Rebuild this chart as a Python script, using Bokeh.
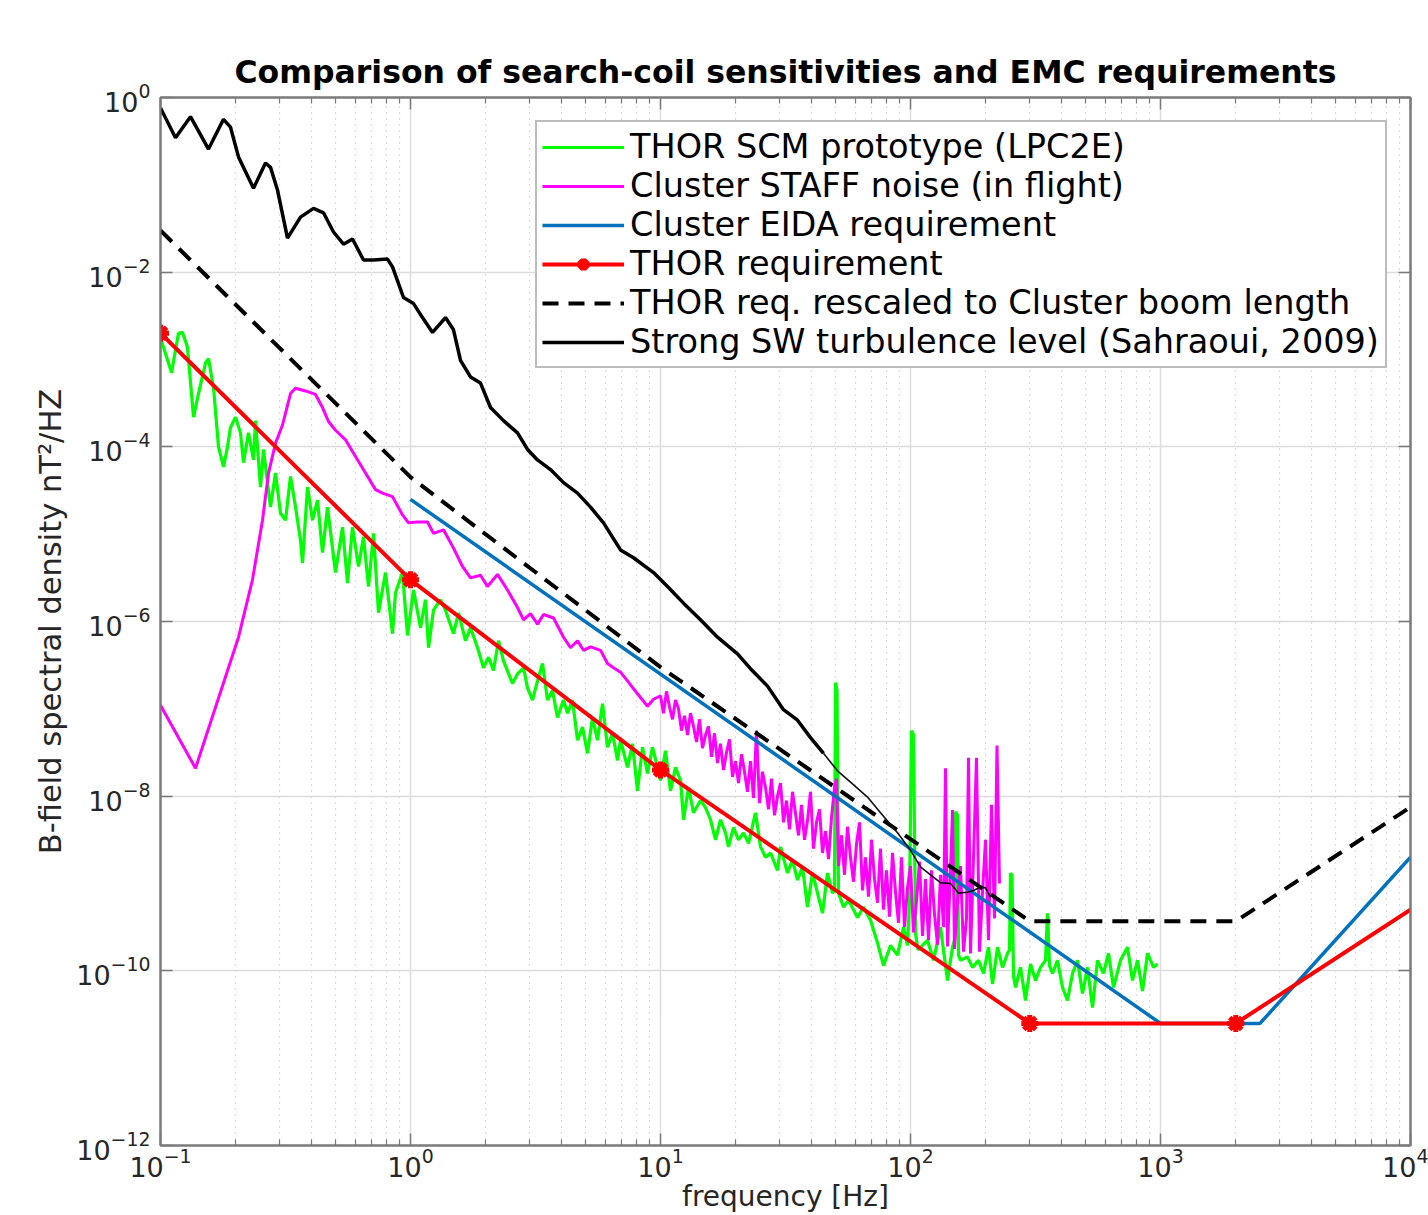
import numpy as np
from bokeh.plotting import figure
from bokeh.models import FixedTicker, LogAxis
from bokeh.embed import file_html
from bokeh.resources import INLINE

# ---------------- data ----------------
# THOR SCM prototype (LPC2E): log10(frequency [Hz]) and log10(PSD [nT^2/Hz])
scm_log_f = [
    -1.0, -0.988, -0.956, -0.928, -0.912, -0.892, -0.868, -0.848, -0.82, -0.808,
    -0.788, -0.768, -0.748, -0.732, -0.72, -0.70, -0.68, -0.668, -0.648, -0.628,
    -0.62, -0.60, -0.588, -0.56, -0.54, -0.52, -0.50, -0.48, -0.46, -0.44,
    -0.432, -0.412, -0.392, -0.372, -0.352, -0.332, -0.30, -0.272, -0.252, -0.232,
    -0.208, -0.188, -0.168, -0.148, -0.128, -0.10, -0.072, -0.06, -0.032, -0.012,
    0.012, 0.04, 0.06, 0.072, 0.092, 0.12, 0.14, 0.172, 0.192, 0.22,
    0.24, 0.268, 0.292, 0.312, 0.332, 0.352, 0.372, 0.408, 0.428, 0.452,
    0.468, 0.488, 0.508, 0.528, 0.548, 0.568, 0.588, 0.612, 0.628, 0.648,
    0.668, 0.688, 0.708, 0.728, 0.748, 0.768, 0.788, 0.808, 0.828, 0.84,
    0.868, 0.888, 0.908, 0.928, 0.948, 0.968, 0.988, 1.0, 1.02, 1.04,
    1.06, 1.08, 1.092, 1.112, 1.132, 1.16, 1.18, 1.20, 1.22, 1.24,
    1.26, 1.272, 1.292, 1.312, 1.332, 1.352, 1.38, 1.40, 1.42, 1.44,
    1.468, 1.48, 1.508, 1.528, 1.548, 1.568, 1.588, 1.608, 1.628, 1.648,
    1.668, 1.688, 1.696, 1.700, 1.706, 1.712, 1.732, 1.752, 1.788, 1.812,
    1.84, 1.868, 1.892, 1.92, 1.948, 1.972, 1.988, 1.996, 2.004, 2.012,
    2.02, 2.03, 2.068, 2.092, 2.12, 2.148, 2.168, 2.176, 2.18, 2.188,
    2.192, 2.2, 2.228, 2.248, 2.272, 2.292, 2.312, 2.328, 2.348, 2.368,
    2.388, 2.396, 2.40, 2.406, 2.412, 2.42, 2.44, 2.46, 2.48, 2.50,
    2.52, 2.54, 2.548, 2.556, 2.568, 2.588, 2.608, 2.628, 2.648, 2.668,
    2.688, 2.708, 2.728, 2.748, 2.772, 2.792, 2.812, 2.84, 2.868, 2.888,
    2.908, 2.928, 2.948, 2.972, 2.988,
]
scm_log_psd = [
    -2.76, -2.86, -3.15, -2.70, -2.69, -2.86, -3.66, -3.39, -3.04, -2.99,
    -3.32, -4.00, -4.23, -4.00, -3.78, -3.66, -3.84, -4.18, -3.84, -4.15,
    -3.70, -4.46, -4.03, -4.69, -4.30, -4.76, -4.84, -4.34, -4.69, -5.07,
    -5.33, -4.46, -4.84, -4.61, -5.21, -4.69, -5.44, -4.92, -5.56, -4.92,
    -5.37, -5.03, -5.60, -4.99, -5.90, -5.44, -6.14, -5.67, -5.44, -6.16,
    -5.64, -6.07, -5.75, -6.30, -5.87, -5.75, -5.87, -6.14, -5.90, -6.22,
    -6.07, -6.30, -6.53, -6.41, -6.56, -6.22, -6.45, -6.71, -6.60, -6.53,
    -6.76, -6.90, -6.68, -6.48, -6.90, -6.79, -7.10, -6.90, -7.05, -6.90,
    -7.36, -7.21, -7.51, -7.10, -7.36, -6.94, -7.44, -7.28, -7.59, -7.36,
    -7.67, -7.40, -7.94, -7.44, -7.74, -7.44, -7.67, -7.82, -7.48, -7.94,
    -7.67, -7.82, -8.27, -7.90, -8.19, -8.05, -8.13, -8.27, -8.50, -8.27,
    -8.42, -8.58, -8.36, -8.50, -8.42, -8.54, -8.19, -8.58, -8.70, -8.65,
    -8.85, -8.58, -8.88, -8.73, -8.96, -8.81, -9.27, -8.88, -9.11, -9.34,
    -8.88, -9.11, -9.08, -6.70, -6.79, -9.11, -9.27, -9.19, -9.39, -9.27,
    -9.42, -9.68, -9.94, -9.71, -9.82, -9.50, -9.71, -9.19, -7.25, -7.30,
    -9.57, -9.76, -9.65, -9.88, -9.50, -10.11, -9.73, -9.65, -8.18, -8.22,
    -9.82, -9.88, -9.84, -9.96, -9.88, -10.03, -9.73, -10.15, -9.73, -9.96,
    -9.80, -9.76, -8.88, -8.91, -10.06, -10.19, -9.96, -10.34, -9.92, -10.11,
    -9.96, -9.88, -9.34, -9.94, -10.03, -9.88, -10.19, -10.34, -10.03, -9.88,
    -10.26, -9.96, -10.42, -9.88, -10.03, -9.80, -10.19, -9.88, -9.73, -10.11,
    -9.88, -10.23, -9.80, -9.96, -9.92,
]

# Cluster STAFF noise (in flight): log10(f), log10(PSD)
staff_log_f = [
    -1.0, -0.86, -0.688, -0.632, -0.592, -0.568, -0.54, -0.512, -0.48, -0.46,
    -0.42, -0.38, -0.352, -0.328, -0.30, -0.26, -0.22, -0.18, -0.14, -0.112,
    -0.072, -0.032, -0.008, 0.028, 0.068, 0.092, 0.132, 0.172, 0.208, 0.24,
    0.28, 0.308, 0.348, 0.388, 0.428, 0.452, 0.48, 0.508, 0.532, 0.572,
    0.612, 0.64, 0.668, 0.692, 0.72, 0.76, 0.788, 0.812, 0.84, 0.868,
    0.892, 0.92, 0.948, 0.972,
    1.000, 1.012, 1.024, 1.036, 1.048, 1.060, 1.072, 1.084, 1.096, 1.108,
    1.120, 1.132, 1.144, 1.156, 1.168, 1.180, 1.192, 1.204, 1.216, 1.228,
    1.240, 1.252, 1.264, 1.276, 1.288, 1.300, 1.312, 1.324, 1.336, 1.348,
    1.360, 1.372, 1.384, 1.396, 1.408, 1.420, 1.432, 1.444, 1.456, 1.468,
    1.480, 1.492, 1.504, 1.516, 1.528, 1.540, 1.552, 1.564, 1.576, 1.588,
    1.600, 1.612, 1.624, 1.636, 1.648, 1.660, 1.672, 1.684, 1.696, 1.704,
    1.712, 1.724, 1.736, 1.748, 1.760, 1.772, 1.784, 1.796, 1.808, 1.820,
    1.832, 1.844, 1.856, 1.868, 1.880, 1.892, 1.904, 1.916, 1.928, 1.940,
    1.952, 1.964, 1.976, 1.988, 2.000, 2.012, 2.024, 2.036, 2.048, 2.060,
    2.072, 2.084, 2.096, 2.108, 2.120, 2.132, 2.140, 2.148, 2.160, 2.168,
    2.176, 2.188, 2.200, 2.212, 2.224, 2.232, 2.240, 2.252, 2.264, 2.276,
    2.288, 2.300, 2.312, 2.324, 2.336, 2.346, 2.356,
]
staff_log_psd = [
    -6.96, -7.68, -6.18, -5.52, -4.84, -4.30, -3.96, -3.75, -3.39, -3.33,
    -3.36, -3.40, -3.55, -3.71, -3.81, -3.92, -4.11, -4.30, -4.49, -4.53,
    -4.57, -4.78, -4.87, -4.86, -4.86, -4.99, -4.95, -5.16, -5.37, -5.50,
    -5.47, -5.60, -5.46, -5.64, -5.84, -5.98, -5.91, -6.03, -5.92, -5.96,
    -6.18, -6.30, -6.22, -6.33, -6.29, -6.33, -6.48, -6.53, -6.58, -6.68,
    -6.77, -6.87, -6.97, -6.89,
    -6.85, -7.05, -6.80, -6.98, -7.12, -6.90, -7.00, -7.25, -7.08, -7.30,
    -7.05, -7.20, -7.38, -7.12, -7.45, -7.30, -7.20, -7.55, -7.28, -7.62,
    -7.40, -7.70, -7.50, -7.35, -7.78, -7.60, -7.85, -7.52, -7.72, -7.95,
    -7.60, -8.02, -7.25, -8.08, -7.72, -7.90, -8.15, -7.80, -8.22, -8.00,
    -7.85, -8.30, -8.05, -8.38, -7.95, -8.20, -8.45, -8.10, -8.50, -8.28,
    -7.95, -8.60, -8.30, -8.15, -8.65, -8.40, -8.72, -8.25, -7.90, -7.80,
    -8.80, -8.45, -8.90, -8.35, -8.70, -8.98, -8.55, -8.30, -9.08, -8.70,
    -9.15, -8.50, -8.95, -9.22, -8.60, -9.30, -8.85, -9.38, -8.65, -9.10,
    -9.45, -8.70, -9.50, -9.05, -8.80, -9.56, -9.20, -8.75, -9.60, -8.95,
    -9.65, -8.85, -9.35, -9.70, -8.90, -9.50, -7.68, -9.72, -8.85, -8.16,
    -9.75, -9.20, -8.80, -9.78, -9.40, -7.56, -9.80, -8.70, -7.56, -9.78,
    -9.10, -8.50, -9.65, -8.10, -9.40, -7.42, -9.00,
]

# Strong SW turbulence level (Sahraoui, 2009): log10(f), log10(PSD)
sw_log_f = [
    -1.0, -0.94, -0.88, -0.808, -0.748, -0.72, -0.688, -0.628, -0.58, -0.56,
    -0.532, -0.492, -0.44, -0.388, -0.348, -0.308, -0.268, -0.232, -0.188, -0.148,
    -0.092, -0.072, -0.028, 0.012, 0.048, 0.088, 0.14, 0.172, 0.20, 0.24,
    0.28, 0.32, 0.372, 0.428, 0.468, 0.508, 0.56, 0.612, 0.668, 0.72,
    0.772, 0.84, 0.892, 0.972, 1.028, 1.092, 1.16, 1.228, 1.308, 1.36,
    1.428, 1.492, 1.548, 1.60, 1.652,
]
sw_log_psd = [
    -0.12, -0.46, -0.22, -0.59, -0.25, -0.34, -0.68, -1.04, -0.75, -0.80,
    -1.06, -1.61, -1.37, -1.27, -1.32, -1.54, -1.68, -1.62, -1.86, -1.86,
    -1.85, -1.94, -2.29, -2.36, -2.52, -2.69, -2.52, -2.66, -3.01, -3.20,
    -3.27, -3.55, -3.70, -3.84, -4.03, -4.15, -4.26, -4.41, -4.53, -4.69,
    -4.87, -5.18, -5.27, -5.44, -5.60, -5.79, -5.98, -6.18, -6.37, -6.54,
    -6.74, -7.01, -7.13, -7.33, -7.51,
]
# high-frequency part of the same curve (drawn thinner in the reference)
sw_hf_log_f = [1.652, 1.708, 1.76, 1.828, 1.88, 1.948, 2.0, 2.04, 2.08, 2.12,
               2.16, 2.192, 2.228, 2.252, 2.28, 2.30, 2.32]
sw_hf_log_psd = [-7.51, -7.71, -7.84, -8.01, -8.19, -8.42, -8.62, -8.81, -8.90, -8.99,
                 -9.00, -9.11, -9.10, -9.08, -9.04, -9.05, -9.16]

# Requirements [Hz], [nT^2/Hz]
thor_req_f = [0.1, 1, 10, 300, 2000, 10000]
thor_req_psd = [2.0e-3, 3.0e-6, 2.0e-8, 2.5e-11, 2.5e-11, 5.0e-10]
thor_marker_f = [0.1, 1, 10, 300, 2000]
thor_marker_psd = [2.0e-3, 3.0e-6, 2.0e-8, 2.5e-11, 2.5e-11]
thor_rescaled_f = [0.1, 1, 10, 300, 2000, 10000]
thor_rescaled_psd = [3.0e-2, 4.5e-5, 3.0e-7, 3.7e-10, 3.7e-10, 7.5e-9]
eida_f = [1, 1000, 2500, 10000]
eida_psd = [2.5e-5, 2.5e-11, 2.5e-11, 2.0e-9]

x_ticks = [0.1, 1, 10, 100, 1000, 10000]
y_ticks = [1e-12, 1e-10, 1e-8, 1e-6, 1e-4, 1e-2, 1.0]

series_labels = [
    "THOR SCM prototype (LPC2E)",
    "Cluster STAFF noise (in flight)",
    "Cluster EIDA requirement",
    "THOR requirement",
    "THOR req. rescaled to Cluster boom length",
    "Strong SW turbulence level (Sahraoui, 2009)",
]
title_text = "Comparison of search-coil sensitivities and EMC requirements"
x_label = "frequency [Hz]"
y_label = "B-field spectral density nT\u00b2/HZ"

# ---------------- figure ----------------
W, H = 1428, 1215
ML, MR, MT, MB = 160, 18, 97, 70

AX = "#7a7a7a"
TXT = "#262626"
FONT = "DejaVu Sans"

p = figure(width=W, height=H, x_axis_type="log", y_axis_type="log",
           x_range=(0.1, 1e4), y_range=(1e-12, 1.0),
           output_backend="svg", toolbar_location=None,
           min_border_left=ML, min_border_right=MR,
           min_border_top=MT, min_border_bottom=MB,
           title=title_text)

p.background_fill_color = "white"
p.border_fill_color = "white"
p.outline_line_color = AX
p.outline_line_width = 2

p.title.align = "center"
p.title.text_font = FONT
p.title.text_font_size = "31.5px"
p.title.text_font_style = "bold"
p.title.text_color = "black"
p.title.standoff = 16

x_minor = [m * d for d in x_ticks[:-1] for m in range(2, 10)]

xa = p.xaxis[0]
ya = p.yaxis[0]
xa.ticker = FixedTicker(ticks=x_ticks, minor_ticks=x_minor)
ya.ticker = FixedTicker(ticks=y_ticks, minor_ticks=[])
for ax in (xa, ya):
    ax.axis_line_color = AX
    ax.axis_line_width = 2
    ax.major_tick_line_color = AX
    ax.minor_tick_line_color = AX
    ax.major_tick_line_width = 1.5
    ax.minor_tick_line_width = 1.2
    ax.major_tick_in = 12
    ax.major_tick_out = 0
    ax.minor_tick_in = 6
    ax.minor_tick_out = 0
    ax.major_label_text_font = FONT
    ax.major_label_text_font_size = "27px"
    ax.major_label_text_color = TXT
    ax.major_label_standoff = 10
xa.major_label_standoff = 2

ya.axis_label = y_label
ya.axis_label_text_font = FONT
ya.axis_label_text_font_size = "30.5px"
ya.axis_label_text_font_style = "normal"
ya.axis_label_text_color = TXT
ya.axis_label_standoff = 5

xa.axis_label = x_label
xa.axis_label_text_font = FONT
xa.axis_label_text_font_size = "28px"
xa.axis_label_text_font_style = "normal"
xa.axis_label_text_color = TXT
xa.axis_label_standoff = 0

# box ticks on top and right (labels made invisible)
for loc, tk in (("above", FixedTicker(ticks=x_ticks, minor_ticks=x_minor)),
                ("right", FixedTicker(ticks=y_ticks, minor_ticks=[]))):
    ax = LogAxis(ticker=tk, axis_line_color=AX, axis_line_width=2,
                 major_tick_line_color=AX, minor_tick_line_color=AX,
                 major_tick_line_width=1.5, minor_tick_line_width=1.2,
                 major_tick_in=12, major_tick_out=0,
                 minor_tick_in=6, minor_tick_out=0,
                 major_label_text_font_size="1px",
                 major_label_text_alpha=0.0,
                 major_label_standoff=0)
    p.add_layout(ax, loc)

p.xgrid.grid_line_color = "#dcdcdc"
p.xgrid.grid_line_width = 1.5
p.xgrid.minor_grid_line_color = "#b8b8b8"
p.xgrid.minor_grid_line_dash = "1 5"
p.xgrid.minor_grid_line_width = 1.2
p.ygrid.grid_line_color = "#dcdcdc"
p.ygrid.grid_line_width = 1.5

# ---------------- series ----------------
p.line(10 ** np.array(scm_log_f), 10 ** np.array(scm_log_psd),
       color="#00ff00", line_width=3.2, legend_label=series_labels[0])
p.line(10 ** np.array(staff_log_f), 10 ** np.array(staff_log_psd),
       color="#ff00ff", line_width=3, legend_label=series_labels[1])
p.line(eida_f, eida_psd, color="#0072bd", line_width=3.5,
       legend_label=series_labels[2])
p.line(thor_req_f, thor_req_psd, color="#ff0000", line_width=4,
       legend_label=series_labels[3])
p.scatter(thor_marker_f, thor_marker_psd, marker="asterisk", size=17,
          line_width=5, color="#ff0000", legend_label=series_labels[3])
p.line(thor_rescaled_f, thor_rescaled_psd, color="black", line_width=4,
       line_dash="16 10", legend_label=series_labels[4])
p.line(10 ** np.array(sw_log_f), 10 ** np.array(sw_log_psd),
       color="black", line_width=3.5, legend_label=series_labels[5])
p.line(10 ** np.array(sw_hf_log_f), 10 ** np.array(sw_hf_log_psd),
       color="#111111", line_width=1.6)

lg = p.legend[0]
lg.location = "top_right"
lg.margin = 23
lg.padding = 5
lg.spacing = 0
lg.glyph_width = 82
lg.glyph_height = 30
lg.label_height = 30
lg.label_width = 750
lg.label_standoff = 6
lg.label_text_font = FONT
lg.label_text_font_size = "33.5px"
lg.label_text_color = "black"
lg.border_line_color = AX
lg.border_line_width = 2
lg.background_fill_color = "white"
lg.background_fill_alpha = 1.0

open("out.html", "w").write(file_html(p, INLINE))
